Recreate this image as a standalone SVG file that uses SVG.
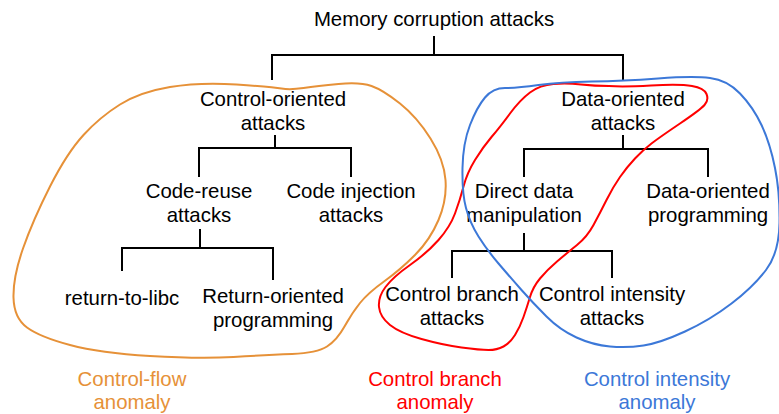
<svg xmlns="http://www.w3.org/2000/svg" width="779" height="414" viewBox="0 0 779 414">
<style>
text{font-family:"Liberation Sans",Arial,sans-serif;font-size:20.4px;text-anchor:middle;fill:#000}
.c path{fill:none;stroke:#000;stroke-width:2}
.blob{fill:none;stroke-width:2}
.or{stroke:#e69138}.rd{stroke:#ff0000}.bl{stroke:#3c78d8}
text.tor{fill:#e69138}text.trd{fill:#ff0000}text.tbl{fill:#3c78d8}
</style>
<rect width="779" height="414" fill="#fff"/>
<g id="connectors" class="c">
<path d="M434 36V55M272 80V55H623V80"/>
<path d="M275 135V148M199 177V148H351V177"/>
<path d="M200 229V248M122 271V248H273V280"/>
<path d="M623 135V149M524 177V149H708V177"/>
<path d="M524 233V251M452 278V251H612V278"/>
</g>
<g id="root"><text x="434" y="26">Memory corruption attacks</text></g>
<g id="control-oriented"><text x="273" y="106">Control-oriented</text><text x="273" y="130">attacks</text></g>
<g id="data-oriented"><text x="623" y="106">Data-oriented</text><text x="623" y="130">attacks</text></g>
<g id="code-reuse"><text x="199" y="198">Code-reuse</text><text x="199" y="222">attacks</text></g>
<g id="code-injection"><text x="351" y="198">Code injection</text><text x="351" y="222">attacks</text></g>
<g id="direct-data"><text x="524" y="198">Direct data</text><text x="524" y="222">manipulation</text></g>
<g id="dop"><text x="708" y="198">Data-oriented</text><text x="708" y="222">programming</text></g>
<g id="ret2libc"><text x="122" y="305">return-to-libc</text></g>
<g id="rop"><text x="273" y="303">Return-oriented</text><text x="273" y="327">programming</text></g>
<g id="branch"><text x="452" y="301">Control branch</text><text x="452" y="325">attacks</text></g>
<g id="intensity"><text x="612" y="301">Control intensity</text><text x="612" y="325">attacks</text></g>
<g id="blobs">
<path class="blob or" d="M281.5 88.5Q273 87 236.5 84.5Q200 82 170 87Q140 92 120 104.5Q100 117 83.5 135Q67 153 50 186.5Q33 220 23 248.5Q13 277 13.5 297.5Q14 318 27 327.5Q40 337 70 345Q100 353 150 356Q200 359 233.5 357Q267 355 292 354Q317 353 327 346.5Q337 340 344.5 326.5Q352 313 360 303Q368 293 384 281.5Q400 270 415 255Q430 240 438.5 220Q447 200 445.5 180Q444 160 430.5 138.5Q417 117 400 103.5Q383 90 371.5 86Q360 82 338.5 84Q317 86 303.5 88Q290 90 281.5 88.5Z"/>
<path class="blob rd" d="M609 86Q623 87 651 85.5Q680 84 692 86Q704 88 706.5 94Q709 100 704.5 105Q700 110 680 123.5Q660 137 651.5 143.5Q643 150 635 158.5Q627 167 620 177Q613 187 606.5 200Q600 213 593.5 225Q587 237 577 245Q567 253 557 261.5Q547 270 540 278.5Q533 287 530 297Q527 307 523.5 317Q520 327 515 335Q510 343 503.5 346.5Q497 350 488.5 350Q480 350 461.5 347.5Q443 345 421.5 339Q400 333 390 325Q380 317 379 307Q378 297 385.5 287Q393 277 410 265Q427 253 438.5 240Q450 227 455 213.5Q460 200 463.5 186.5Q467 173 475 160Q483 147 491.5 137Q500 127 510 113.5Q520 100 530 92.5Q540 85 553.5 84Q567 83 581 84.5Q595 86 609 86Z"/>
<path class="blob bl" d="M591.5 81.5Q623 81 658 78.5Q693 76 710 78Q727 80 740 93.5Q753 107 761.5 125Q770 143 775 168Q780 193 779.5 223Q779 253 766 270Q753 287 731.5 303.5Q710 320 685 331.5Q660 343 643.5 345.5Q627 348 610 346.5Q593 345 576.5 337.5Q560 330 546.5 316.5Q533 303 521.5 290Q510 277 498.5 263.5Q487 250 478.5 236.5Q470 223 466 208Q462 193 462.5 168Q463 143 470 125Q477 107 485 97.5Q493 88 505 88Q517 88 538.5 85Q560 82 591.5 81.5Z"/>
</g>
<g id="legend">
<text class="tor" x="132" y="386">Control-flow</text><text class="tor" x="132" y="409">anomaly</text>
<text class="trd" x="435" y="386">Control branch</text><text class="trd" x="435" y="409">anomaly</text>
<text class="tbl" x="657" y="386">Control intensity</text><text class="tbl" x="657" y="409">anomaly</text>
</g>
</svg>
